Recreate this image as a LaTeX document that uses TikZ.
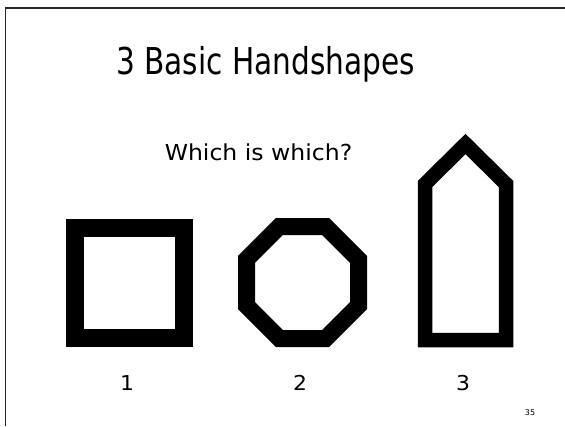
\documentclass[tikz,border=0pt]{standalone}
\usepackage{fontspec}
\setmainfont{DejaVu Sans}
\newfontfamily\titlefont[FakeStretch=0.8]{DejaVu Sans}
\newfontfamily\subfont[FakeStretch=1.07]{DejaVu Sans}
\begin{document}
\begin{tikzpicture}[x=1pt,y=-1pt,
  txt/.style={inner sep=0pt,anchor=base},
  shapeline/.style={line width=16pt,draw=black,fill=white,line join=miter},
  frame/.style={line width=1.6pt,draw=black!85}]
\useasboundingbox (0,0) rectangle (565,426);
% frame
\draw[frame] (5.5,426) -- (5.5,8) -- (565,8);
% texts
\node[txt] (title) at (265.5,74) {\titlefont\fontsize{37}{40}\selectfont 3 Basic Handshapes};
\node[txt] (sub) at (258.5,160) {\subfont\fontsize{22}{26}\selectfont Which is which?};
% square
\draw[shapeline,line width=18pt] (75,228) rectangle (184,338);
% octagon
\draw[shapeline,line width=17pt] (358.5,259.3) -- (325.7,226.5) -- (279.3,226.5) -- (246.5,259.3)
  -- (246.5,305.7) -- (279.3,338.5) -- (325.7,338.5) -- (358.5,305.7) -- cycle;
% pencil
\draw[shapeline,line width=14.5pt] (425,340) -- (425,184) -- (465.5,144) -- (506,184) -- (506,340) -- cycle;
% labels
\node[txt] (n1) at (127,390) {\subfont\fontsize{20.5}{24}\selectfont 1};
\node[txt] (n2) at (300,390) {\subfont\fontsize{20.5}{24}\selectfont 2};
\node[txt] (n3) at (463,390) {\subfont\fontsize{20.5}{24}\selectfont 3};
\node[txt] (page) at (530,415) {\fontsize{8}{9}\selectfont 35};
\end{tikzpicture}
\end{document}
